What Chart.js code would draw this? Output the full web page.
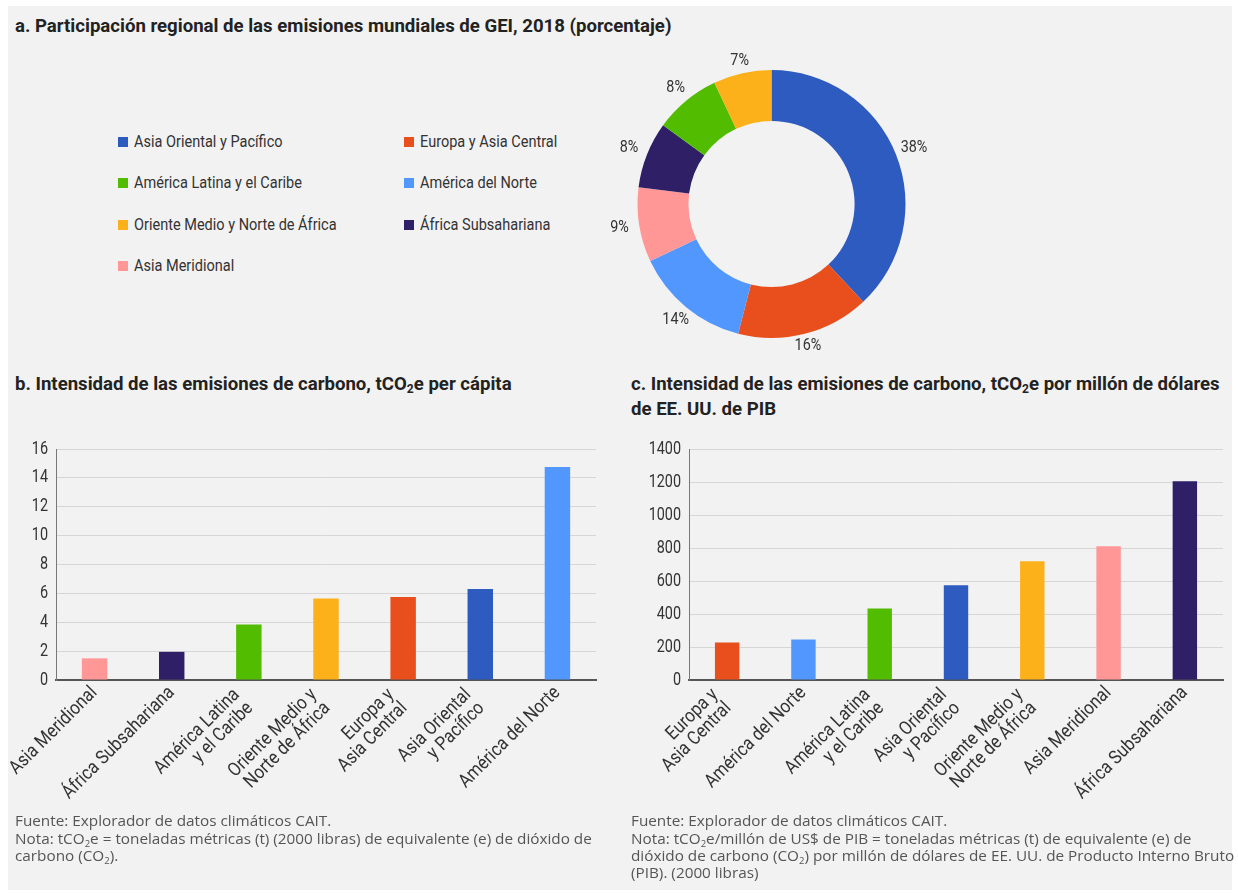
<!DOCTYPE html>
<html lang="es">
<head>
<meta charset="utf-8">
<title>Emisiones de GEI por región</title>
<script src="https://cdn.jsdelivr.net/npm/chart.js@4.4.1/dist/chart.umd.min.js"></script>
<style>
  body { margin: 0; background: #fff; width: 1238px; height: 893px; position: relative; overflow: hidden; }
  #fondo { position: absolute; left: 8px; top: 6px; width: 1224px; height: 884px; background: #f2f2f2; }
  .titulo { position: absolute; font-family: Roboto, sans-serif; font-weight: bold; font-size: 18.6px; line-height: 25px; color: #222; white-space: nowrap; }
  .titulo sub { font-size: 12px; line-height: 0; vertical-align: -3px; }
  .nota { position: absolute; font-family: "Open Sans", sans-serif; font-size: 15.3px; line-height: 17px; color: #555; white-space: nowrap; }
  .nota p { margin: 0 0 1px 0; }
  .nota sub { font-size: 9.5px; line-height: 0; vertical-align: -3px; }
  .leyenda { position: absolute; font-family: Roboto, sans-serif; font-size: 16.5px; color: #333; white-space: nowrap; }
  .leyenda span { position: absolute; width: 10px; height: 10px; top: 5px; left: 0; }
  .leyenda div { transform: scaleX(0.88); transform-origin: left top; }
</style>
</head>
<body>
<div id="fondo"></div>

<div class="titulo" style="left:15px; top:14px;">a. Participación regional de las emisiones mundiales de GEI, 2018 (porcentaje)</div>
<div class="titulo" style="left:15px; top:372px;">b. Intensidad de las emisiones de carbono, tCO<sub>2</sub>e per cápita</div>
<div class="titulo" style="left:631px; top:372px;">c. Intensidad de las emisiones de carbono, tCO<sub>2</sub>e por millón de dólares<br>de EE. UU. de PIB</div>

<div id="leyenda"></div>

<div style="position:absolute; left:600px; top:50px; width:360px; height:320px;"><canvas id="dona"></canvas></div>
<div style="position:absolute; left:0px; top:430px; width:620px; height:400px;"><canvas id="perCapita"></canvas></div>
<div style="position:absolute; left:620px; top:430px; width:618px; height:400px;"><canvas id="porPib"></canvas></div>

<div class="nota" style="left:15px; top:812px;">
  <p>Fuente: Explorador de datos climáticos CAIT.</p>
  <div>Nota: tCO<sub>2</sub>e = toneladas métricas (t) (2000 libras) de equivalente (e) de dióxido de<br>carbono (CO<sub>2</sub>).</div>
</div>
<div class="nota" style="left:631px; top:812px;">
  <p>Fuente: Explorador de datos climáticos CAIT.</p>
  <div>Nota: tCO<sub>2</sub>e/millón de US$ de PIB = toneladas métricas (t) de equivalente (e) de<br>dióxido de carbono (CO<sub>2</sub>) por millón de dólares de EE. UU. de Producto Interno Bruto<br>(PIB). (2000 libras)</div>
</div>

<script>
// Regiones (orden de la leyenda) y su color
const regiones = [
  "Asia Oriental y Pacífico",
  "Europa y Asia Central",
  "América Latina y el Caribe",
  "América del Norte",
  "Oriente Medio y Norte de África",
  "África Subsahariana",
  "Asia Meridional",
];
const coloresRegion = [
  "#2E5BBF", // azul
  "#E94F1D", // naranja
  "#52BD00", // verde
  "#5297FE", // celeste
  "#FCB11B", // amarillo
  "#2E1F66", // morado oscuro
  "#FF9797", // rosa
];

// Etiquetas del eje x partidas en lineas
const etiquetasEje = {
  "Asia Oriental y Pacífico": ["Asia Oriental", "y Pacífico"],
  "Europa y Asia Central": ["Europa y", "Asia Central"],
  "América Latina y el Caribe": ["América Latina", "y el Caribe"],
  "América del Norte": ["América del Norte"],
  "Oriente Medio y Norte de África": ["Oriente Medio y", "Norte de África"],
  "África Subsahariana": ["África Subsahariana"],
  "Asia Meridional": ["Asia Meridional"],
};

// a. Participacion en las emisiones mundiales de GEI, 2018 (%)
const regionesDona = [
  "Asia Oriental y Pacífico",
  "Europa y Asia Central",
  "América del Norte",
  "Asia Meridional",
  "África Subsahariana",
  "América Latina y el Caribe",
  "Oriente Medio y Norte de África",
];
const participacion = [38, 16, 14, 9, 8, 8, 7];

// b. tCO2e per capita
const regionesPerCapita = [
  "Asia Meridional",
  "África Subsahariana",
  "América Latina y el Caribe",
  "Oriente Medio y Norte de África",
  "Europa y Asia Central",
  "Asia Oriental y Pacífico",
  "América del Norte",
];
const perCapita = [1.5, 1.95, 3.85, 5.65, 5.75, 6.3, 14.75];
const ticksPerCapita = [0, 2, 4, 6, 8, 10, 12, 14, 16];

// c. tCO2e por millon de dolares de PIB
const regionesPorPib = [
  "Europa y Asia Central",
  "América del Norte",
  "América Latina y el Caribe",
  "Asia Oriental y Pacífico",
  "Oriente Medio y Norte de África",
  "Asia Meridional",
  "África Subsahariana",
];
const porPib = [228, 246, 434, 574, 719, 810, 1204];
const ticksPorPib = [0, 200, 400, 600, 800, 1000, 1200, 1400];

const fuente = "Roboto, sans-serif";
const colorDe = (r) => coloresRegion[regiones.indexOf(r)];

// texto angosto: se comprime en horizontal
function textoAngosto(ctx, texto, x, y, escala) {
  ctx.save();
  ctx.translate(x, y);
  ctx.scale(escala, 1);
  ctx.fillText(texto, 0, 0);
  ctx.restore();
}

// leyenda en dos columnas
const leyenda = document.getElementById("leyenda");
regiones.forEach((r, i) => {
  const col = i % 2;
  const fila = Math.floor(i / 2);
  const item = document.createElement("div");
  item.className = "leyenda";
  item.style.left = (col === 0 ? 118 : 404) + "px";
  item.style.top = (132 + fila * 41.3) + "px";
  item.innerHTML = '<span style="background:' + coloresRegion[i] + '"></span>' +
    '<div style="margin-left:16px">' + r + "</div>";
  leyenda.appendChild(item);
});

// porcentajes fuera de la dona
const etiquetasDona = {
  id: "etiquetasDona",
  afterDraw(chart) {
    const ctx = chart.ctx;
    const arcos = chart.getDatasetMeta(0).data;
    ctx.save();
    ctx.font = "16.5px " + fuente;
    ctx.fillStyle = "#333";
    ctx.textAlign = "center";
    ctx.textBaseline = "middle";
    arcos.forEach((arco, i) => {
      const a = (arco.startAngle + arco.endAngle) / 2;
      const r = arco.outerRadius + 10 + 10 * Math.abs(Math.cos(a));
      textoAngosto(ctx, chart.data.datasets[0].data[i] + "%",
        arco.x + Math.cos(a) * r, arco.y + Math.sin(a) * r, 0.87);
    });
    ctx.restore();
  },
};

// etiquetas de ambos ejes: y a la izquierda, x giradas 45 grados
const etiquetasEjes = {
  id: "etiquetasEjes",
  afterDraw(chart) {
    const ctx = chart.ctx;
    const { x, y } = chart.scales;
    ctx.save();
    ctx.fillStyle = "#333";
    ctx.font = "18px " + fuente;
    ctx.textAlign = "right";
    ctx.textBaseline = "middle";
    y.ticks.forEach((t) => textoAngosto(ctx, String(t.value), y.right - 8, y.getPixelForValue(t.value), 0.8));

    ctx.font = "19px " + fuente;
    chart.data.labels.forEach((lineas, i) => {
      const extra = lineas.length - 1;
      ctx.save();
      ctx.translate(x.getPixelForTick(i), x.top + 10);
      ctx.rotate(-Math.PI / 4);
      // bloque de dos lineas: un poco hacia atras y abajo
      lineas.forEach((l, j) =>
        textoAngosto(ctx, l, -10 * extra, (j - extra / 2) * 19 + 2.5 * extra, 0.88));
      ctx.restore();
    });
    ctx.restore();
  },
};

new Chart(document.getElementById("dona"), {
  type: "doughnut",
  data: {
    labels: regionesDona,
    datasets: [{
      data: participacion,
      backgroundColor: regionesDona.map(colorDe),
      borderWidth: 0,
    }],
  },
  options: {
    responsive: true,
    maintainAspectRatio: false,
    animation: false,
    cutout: "62%",
    layout: { padding: { left: 37.5, top: 20, right: 54.5, bottom: 32 } },
    plugins: { legend: { display: false }, tooltip: { enabled: false } },
  },
  plugins: [etiquetasDona],
});

function graficoBarras(id, regionesOrden, valores, ticks, anchoEje, derecha, barra) {
  new Chart(document.getElementById(id), {
    type: "bar",
    data: {
      labels: regionesOrden.map((r) => etiquetasEje[r]),
      datasets: [{
        data: valores,
        backgroundColor: regionesOrden.map(colorDe),
        barPercentage: barra,
        categoryPercentage: 1,
      }],
    },
    options: {
      responsive: true,
      maintainAspectRatio: false,
      animation: false,
      layout: { padding: { top: 19, right: derecha, left: 0, bottom: 0 } },
      plugins: { legend: { display: false }, tooltip: { enabled: false } },
      scales: {
        x: {
          grid: { display: false },
          border: { color: "#555", width: 2 },
          ticks: { display: false },
          afterFit: (s) => { s.height = 150; },
        },
        y: {
          min: ticks[0],
          max: ticks[ticks.length - 1],
          afterBuildTicks: (s) => { s.ticks = ticks.map((v) => ({ value: v })); },
          grid: { color: "#d6d6d6", drawTicks: false },
          border: { color: "#777", width: 1 },
          ticks: { display: false },
          afterFit: (s) => { s.width = anchoEje; },
        },
      },
    },
    plugins: [etiquetasEjes],
  });
}

graficoBarras("perCapita", regionesPerCapita, perCapita, ticksPerCapita, 56, 24, 0.33);
graficoBarras("porPib", regionesPorPib, porPib, ticksPorPib, 69, 15, 0.32);
</script>
</body>
</html>
